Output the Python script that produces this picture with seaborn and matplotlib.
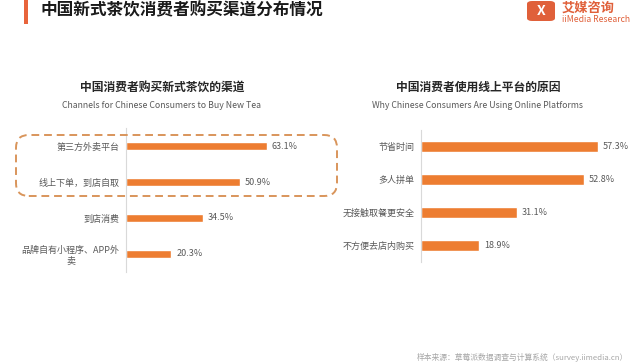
import numpy as np
import pandas as pd
import matplotlib.pyplot as plt
import seaborn as sns
from matplotlib.patches import FancyBboxPatch

# Data
channels = ['第三方外卖平台', '线上下单，到店自取', '到店消费', '品牌自有小程序、APP外\n卖']
channel_share = [63.1, 50.9, 34.5, 20.3]
reasons = ['节省时间', '多人拼单', '无接触取餐更安全', '不方便去店内购买']
reason_share = [57.3, 52.8, 31.1, 18.9]

main_title = '中国新式茶饮消费者购买渠道分布情况'
left_title = '中国消费者购买新式茶饮的渠道'
left_sub = 'Channels for Chinese Consumers to Buy New Tea'
right_title = '中国消费者使用线上平台的原因'
right_sub = 'Why Chinese Consumers Are Using Online Platforms'
source = '样本来源：草莓派数据调查与计算系统（survey.iimedia.cn）'

sns.set_style('white')
plt.rcParams['font.family'] = ['Noto Sans CJK SC', 'DejaVu Sans']

BAR = '#ED7D31'
GREY = '#595959'
LOGO = '#E0603A'

fig = plt.figure(figsize=(6.4, 3.64), dpi=100)
W, H = 640, 364


def px_axes(x0, y0, x1, y1):
    return fig.add_axes([x0 / W, 1 - y1 / H, (x1 - x0) / W, (y1 - y0) / H])


def draw_panel(ax, labels, values, xmax, bar_w):
    df = pd.DataFrame({'label': labels, 'value': values})
    sns.barplot(data=df, x='value', y='label', ax=ax, color=BAR,
                width=bar_w, saturation=1)
    ax.set_xlim(0, xmax)
    ax.set_ylim(len(labels) - 0.5, -0.5)
    ax.set_xlabel('')
    ax.set_ylabel('')
    ax.set_xticks([])
    for s in ['top', 'right', 'bottom']:
        ax.spines[s].set_visible(False)
    ax.spines['left'].set_color('#D9D9D9')
    ax.spines['left'].set_linewidth(0.8)
    ax.tick_params(axis='y', length=0, pad=4.5, labelsize=6.5, labelcolor=GREY)
    # faint marks between categories
    ax.set_yticks(np.arange(len(labels) - 1) + 0.5, minor=True)
    ax.tick_params(axis='y', which='minor', length=2.5, width=0.6,
                   color='#E3E3E3', direction='out')
    for t in ax.get_yticklabels():
        t.set_multialignment('center')
    ax.bar_label(ax.containers[0], labels=[f'{v}%' for v in values],
                 padding=3.5, fontsize=6.5, color=GREY)
    ax.patch.set_alpha(0)


ax1 = px_axes(126, 128, 327, 272)
draw_panel(ax1, channels, channel_share, 90, 0.24)
ax2 = px_axes(421, 130, 622, 262)
draw_panel(ax2, reasons, reason_share, 65, 0.32)

# panel titles
fig.text(162 / W, 1 - 87 / H, left_title, ha='center', va='center',
         fontsize=8.5, fontweight='bold', color='#262626')
fig.text(162 / W, 1 - 105 / H, left_sub, ha='center', va='center',
         fontsize=6.3, color=GREY)
fig.text(478 / W, 1 - 87 / H, right_title, ha='center', va='center',
         fontsize=8.5, fontweight='bold', color='#262626')
fig.text(478 / W, 1 - 105 / H, right_sub, ha='center', va='center',
         fontsize=6.3, color=GREY)

# dashed highlight box
box = FancyBboxPatch((16 / W, 1 - 196 / H), (337 - 16) / W, (196 - 135) / H,
                     boxstyle='round,pad=0,rounding_size=0.02',
                     transform=fig.transFigure, fill=False,
                     edgecolor='#D9955B', linewidth=1.4,
                     linestyle=(0, (4, 2.5)), mutation_aspect=W / H)
fig.add_artist(box)

# header
fig.add_artist(plt.Rectangle((24 / W, 1 - 24 / H), 4 / W, 24 / H,
                             transform=fig.transFigure, color='#E8643C', lw=0))
fig.text(40 / W, 1 - 10 / H, main_title, ha='left', va='center',
         fontsize=12, fontweight='bold', color='#1A1A1A')

# logo
fig.add_artist(FancyBboxPatch((527 / W, 1 - 21 / H), 28 / W, 20 / H,
                              boxstyle='round,pad=0,rounding_size=0.008',
                              transform=fig.transFigure, color=LOGO, lw=0))
fig.text(541 / W, 1 - 11 / H, 'X', ha='center', va='center', fontsize=10,
         fontweight='bold', color='white')
fig.text(562 / W, 1 - 8 / H, '艾媒咨询', ha='left', va='center', fontsize=9.5,
         fontweight='bold', color=LOGO)
fig.text(562 / W, 1 - 19 / H, 'iiMedia Research', ha='left', va='center',
         fontsize=6.2, color=LOGO)

# source
fig.text(417 / W, 1 - 357 / H, source, ha='left', va='center', fontsize=5.6,
         color='#A6A6A6')

fig.savefig('out.png', dpi=100)
